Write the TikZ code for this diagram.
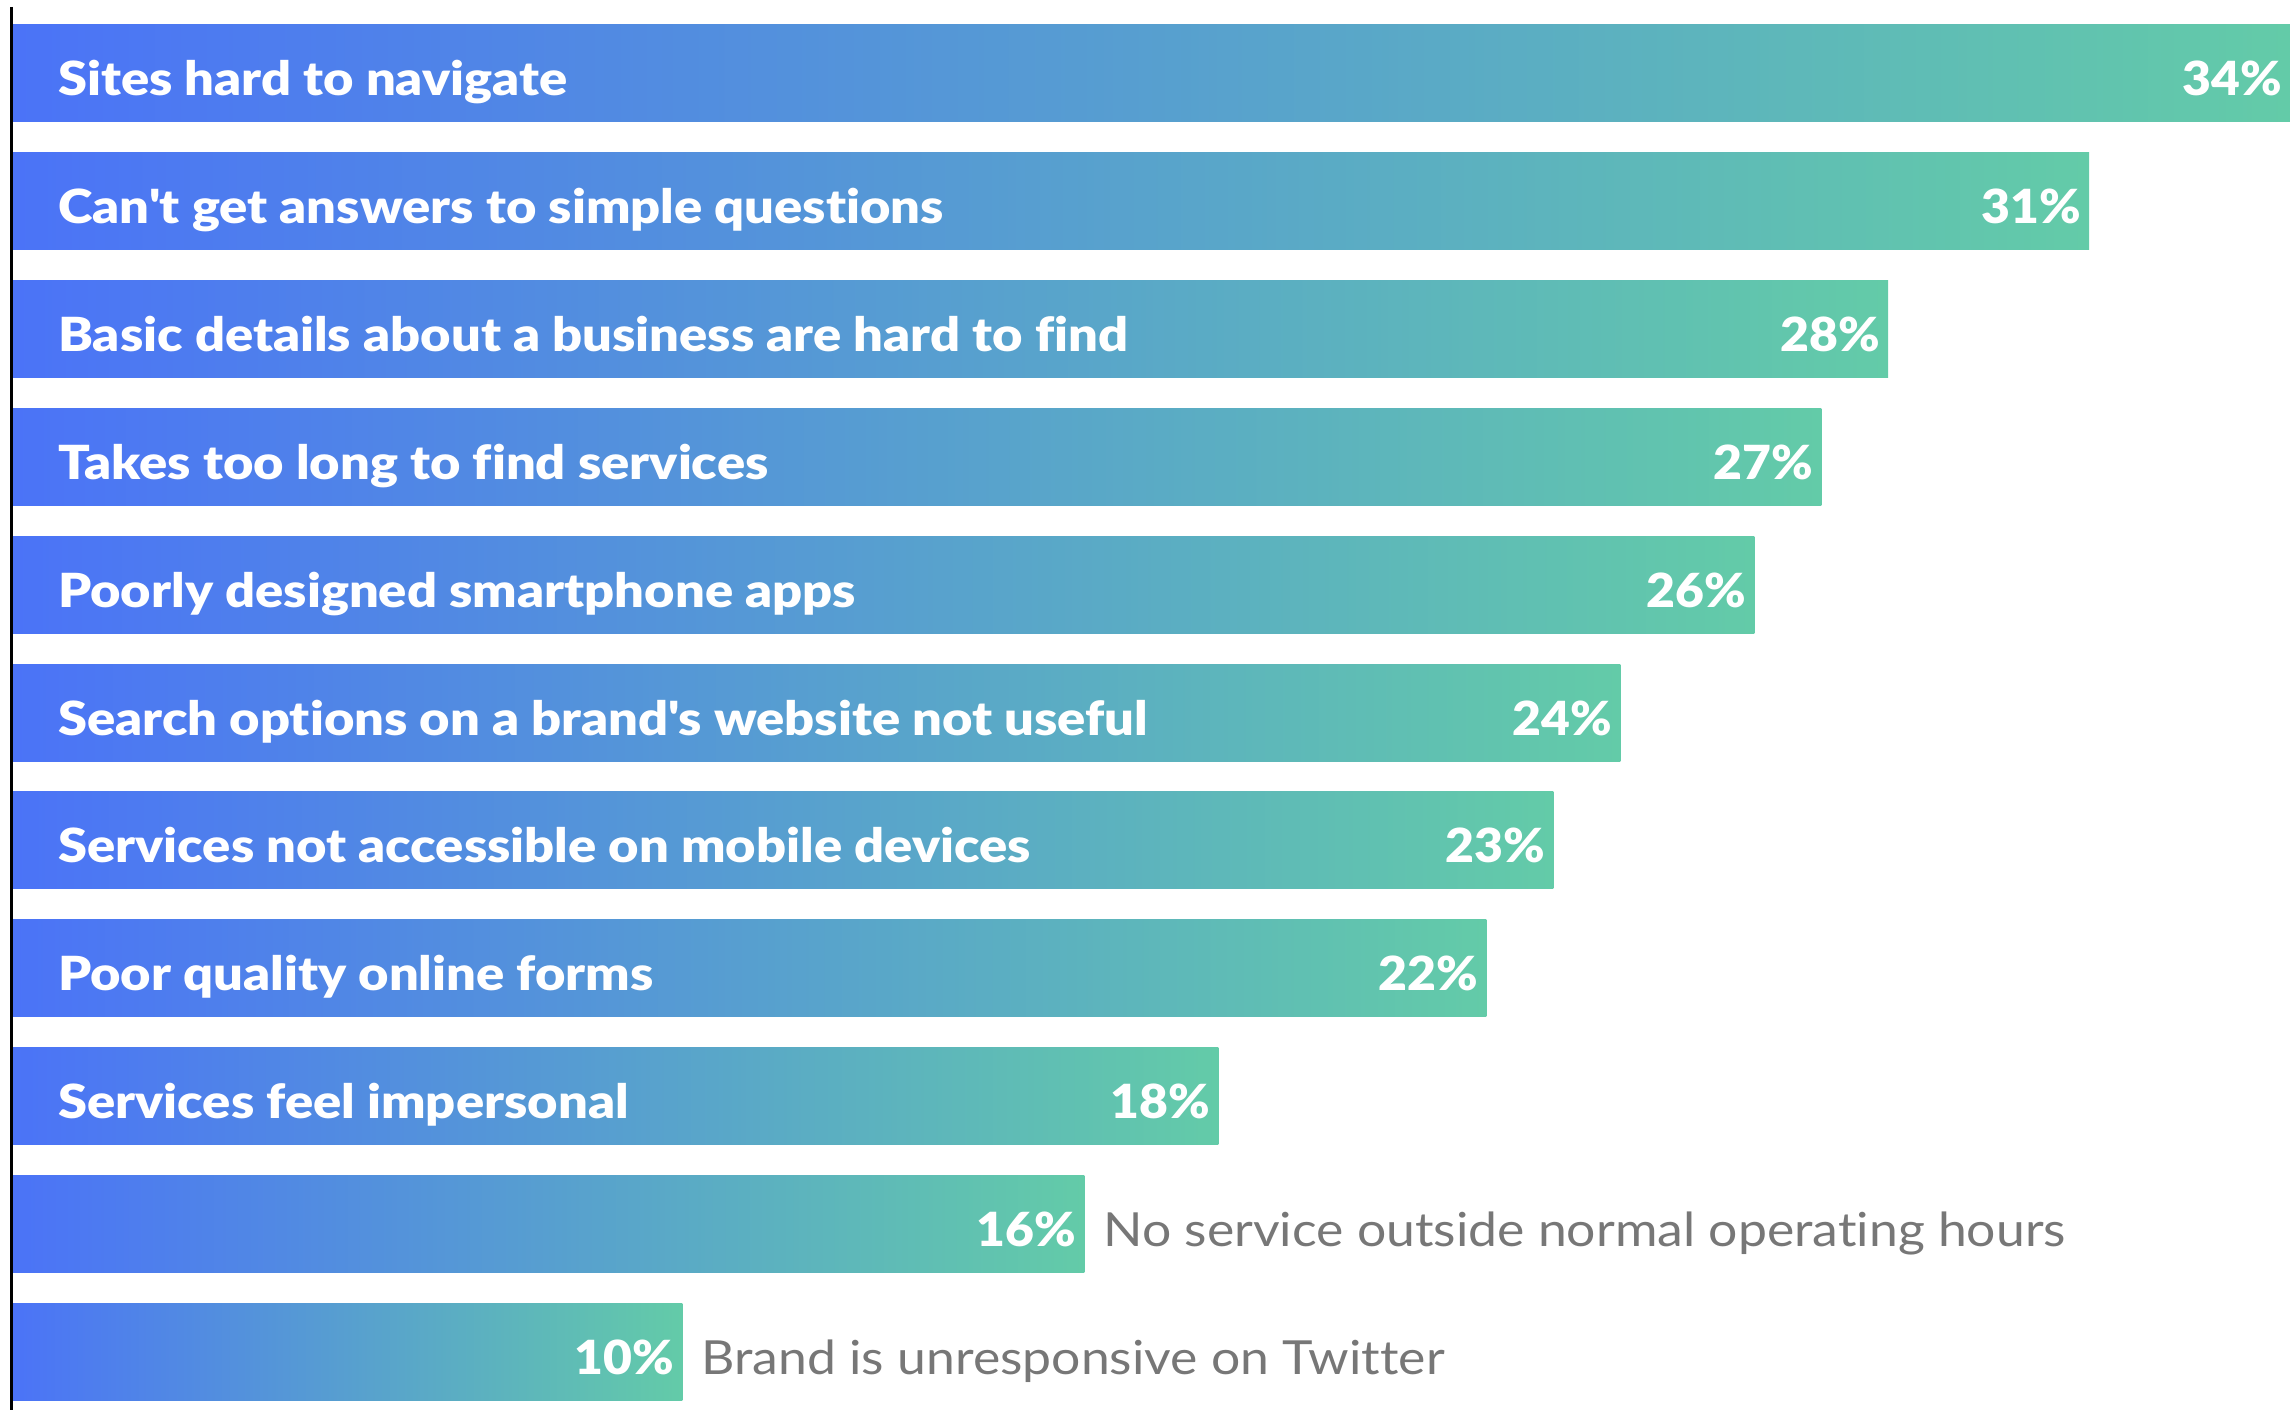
\documentclass[tikz,border=0pt]{standalone}
\usepackage{fontspec}
\setmainfont{Lato}
\newfontfamily\heavyfont{Lato Black}[FakeStretch=1.115, Ligatures={NoCommon}]
\newfontfamily\pctfont{Lato Black}[FakeStretch=1.06]
\newfontfamily\notefont{Lato}[FakeStretch=1.10, Ligatures={NoCommon}]
\definecolor{barL}{HTML}{4B73F7}
\definecolor{barR}{HTML}{63CBA8}
\definecolor{notegray}{HTML}{777777}
\begin{document}
\begin{tikzpicture}[x=1pt,y=-1pt,
  barbox/.style={rectangle, draw=none, inner sep=0pt, outer sep=0pt, minimum height=97pt, left color=barL, right color=barR, anchor=north west},
  lab/.style={anchor=base west, inner sep=0pt, text=white, font=\fontsize{47}{47}\selectfont\heavyfont},
  pct/.style={anchor=base east, inner sep=0pt, text=white, font=\fontsize{47}{47}\selectfont\pctfont},
  notelab/.style={anchor=base west, inner sep=0pt, text=notegray, font=\fontsize{47}{47}\selectfont\notefont},
  axisline/.style={line width=2.7pt, black}]
\useasboundingbox (0,0) rectangle (2290,1410);
\coordinate (axtop) at (11.3,7);
\coordinate (axbot) at (11.3,1410);
\foreach \p/\lbl [count=\i from 0] in {34/Sites hard to navigate, 31/Can\textquotesingle t get answers to simple questions, 28/Basic details about a business are hard to find, 27/Takes too long to find services, 26/Poorly designed smartphone apps, 24/Search options on a brand\textquotesingle s website not useful, 23/Services not accessible on mobile devices, 22/Poor quality online forms, 18/Services feel impersonal}{
  \pgfmathsetmacro\yt{25+127.8*\i}
  \pgfmathsetmacro\xe{12.5+66.99*\p}
  \node[barbox, minimum width={(\xe-12.5)*1pt}] (bar\i) at (12.5,\yt) {};
  \node[lab] (lab\i) at (58,\yt+71) {\lbl};
  \node[pct] (pct\i) at (\xe-8,\yt+71) {\p\%};
}
\foreach \p/\lbl [count=\i from 9] in {16/No service outside normal operating hours, 10/Brand is unresponsive on Twitter}{
  \pgfmathsetmacro\yt{25+127.8*\i}
  \pgfmathsetmacro\xe{12.5+66.99*\p}
  \node[barbox, minimum width={(\xe-12.5)*1pt}] (bar\i) at (12.5,\yt) {};
  \node[pct] (pct\i) at (\xe-8,\yt+71) {\p\%};
  \node[notelab] (lab\i) at (\xe+19,\yt+71) {\lbl};
}
\draw[axisline] (axtop) -- (axbot);
\end{tikzpicture}
\end{document}
